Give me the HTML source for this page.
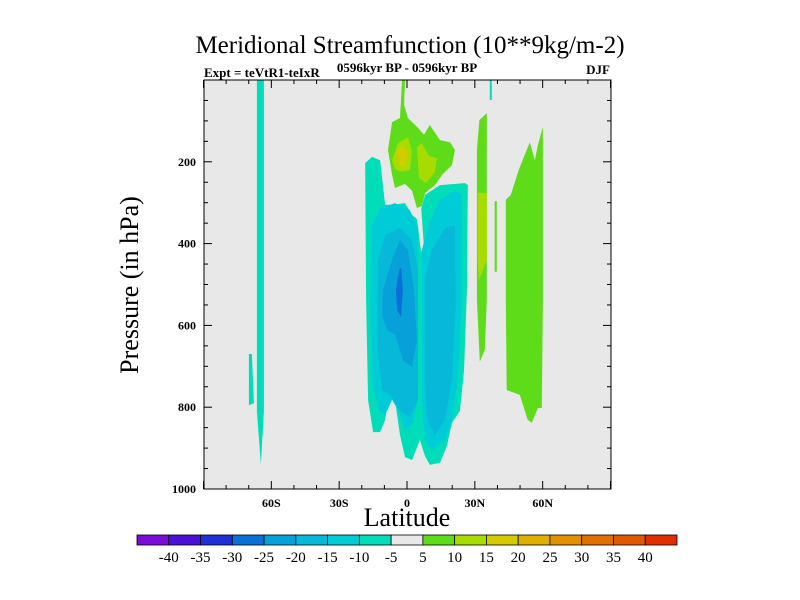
<!DOCTYPE html>
<html><head><meta charset="utf-8"><style>
html,body{margin:0;padding:0;background:#fff;}
svg{display:block;font-family:"Liberation Serif",serif;}
</style></head><body>
<svg id="chart" width="800" height="600" viewBox="0 0 800 600" xmlns="http://www.w3.org/2000/svg">
<text x="410" y="53" font-size="25" text-anchor="middle">Meridional Streamfunction (10**9kg/m-2)</text>
<text x="204" y="77" font-size="13" font-weight="bold">Expt = teVtR1-teIxR</text>
<text x="407" y="72" font-size="13" font-weight="bold" text-anchor="middle">0596kyr BP - 0596kyr BP</text>
<text x="610" y="74" font-size="13" font-weight="bold" text-anchor="end">DJF</text>
<rect x="204" y="80" width="407" height="409" fill="#e8e8e8"/>
<g id="fills"></g>
<rect x="204" y="80" width="407" height="409" fill="none" stroke="#000" stroke-width="1"/>
<g id="axes"></g>
<text transform="translate(138,285) rotate(-90)" font-size="26" text-anchor="middle">Pressure (in hPa)</text>
<text x="407" y="526" font-size="26" text-anchor="middle">Latitude</text>
<g id="cbar"></g>
</svg>
<script>
const levelColors = ["#7a0ed8","#4a10d8","#2030d8","#0a70d8","#08a0d8","#08b8d8","#00ccd8","#00ddb8","#e8e8e8","#5edc1a","#a8dc00","#d4cc00","#e0b000","#e09000","#e07000","#e05800","#e03000"];
const levelLabels = ["-40","-35","-30","-25","-20","-15","-10","-5","5","10","15","20","25","30","35","40"];
const xTicks = [-60,-30,0,30,60];
const xTickLabels = ["60S","30S","0","30N","60N"];
const yTicks = [200,400,600,800,1000];
// contour regions: [colorIndex, [[lat, hPa], ...]]
const regionLevels = [7,7,7,8,6,6,5,5,4,3,9,10,10,11,9,10,9,9,7];
const regionShapes = [
 [[-66.4,0],[-63.3,0],[-63.3,810],[-64.6,940],[-66.4,810]],
 [[-69.9,670],[-68.6,670],[-67.7,790],[-69.9,795]],
 [[-18.5,203],[-15.5,188],[-11.9,196],[-9.7,305],[-6.2,305],[-0.9,301],[2.2,330],[4.9,342],[8,281],[14.6,257],[25.6,252],[26.9,257],[26.5,516],[25.2,711],[23.4,809],[19.9,838],[17.6,895],[14.6,936],[10.1,941],[7.9,919],[5.7,880],[2.2,929],[-0.9,922],[-3.1,868],[-5.3,783],[-7.5,758],[-9.7,831],[-11.9,861],[-15,861],[-17.2,783],[-18.1,538]],
 [[3.5,310],[6.2,305],[7.5,410],[6.2,420],[4.9,360]],
 [[-15.5,355],[-11.9,313],[-5.3,301],[1.3,318],[4.9,364],[4.9,782],[2.2,843],[-0.9,856],[-4,807],[-6.6,782],[-9.7,819],[-12.8,807],[-15.5,733],[-16.3,538]],
 [[6.6,416],[9.3,355],[14.6,293],[21.2,269],[24.3,281],[24.3,538],[22.5,733],[19.9,831],[16.8,880],[11,905],[7.9,880],[6.6,783]],
 [[-12.8,440],[-9.7,379],[-3.1,362],[2.2,391],[4.9,464],[4.9,782],[1.3,825],[-3.1,807],[-7.5,770],[-11,758],[-13.2,660]],
 [[7.9,489],[11,416],[16.8,362],[21.2,355],[21.6,538],[19.9,733],[16.8,831],[12.4,868],[8.8,831],[7.9,733]],
 [[-10.6,513],[-6.6,440],[-3.1,391],[0.4,416],[3.1,513],[4.4,636],[2.2,702],[-1.8,685],[-5.3,623],[-8.8,611],[-11,575]],
 [[-3.5,464],[-2.6,459],[-1.8,513],[-2.6,580],[-4.4,562],[-4.9,513]],
 [[-2.2,0],[-0.9,0],[-1.3,61],[0.4,93],[4.9,117],[7.5,134],[10.1,110],[14.6,147],[19,152],[21.2,171],[19.9,208],[15.5,232],[12.4,257],[8,276],[6.6,308],[4.4,313],[2.2,271],[-0.9,254],[-5.3,264],[-6.6,232],[-8.4,171],[-6.6,103],[-3.1,93]],
 [[-6.6,196],[-4,154],[0.4,140],[2.2,176],[1.3,220],[-2.2,225],[-5.3,218]],
 [[4.4,164],[6.6,154],[9.7,186],[13.2,191],[12.4,225],[8.4,252],[5.3,240]],
 [[-4.4,171],[-1.8,159],[0.4,178],[-1.3,213],[-3.5,208]],
 [[32,98],[35.3,81],[35.3,171],[35.3,538],[34.4,660],[32.2,689],[30.9,538],[30.9,171]],
 [[31.3,276],[35.3,276],[35.3,440],[31.8,489],[31.3,440]],
 [[38.8,296],[39.7,296],[39.7,469],[38.8,469]],
 [[43.7,293],[45.9,281],[49.4,220],[54.3,152],[56.5,196],[57.9,159],[60.1,115],[60.1,538],[59.6,802],[57.9,802],[55.2,838],[53.4,831],[49.9,770],[44.1,758],[43.7,538]],
 [[36.6,0],[37.5,0],[37.5,49],[36.6,49]]
];
const X = lat => 407 + lat*2.2611;
const Y = p => 80 + p*0.409;
const NS="http://www.w3.org/2000/svg";
const fills=document.getElementById('fills');
regionShapes.forEach((pts,i)=>{
  const pg=document.createElementNS(NS,'polygon');
  pg.setAttribute('points',pts.map(q=>X(q[0]).toFixed(1)+','+Y(q[1]).toFixed(1)).join(' '));
  pg.setAttribute('fill',levelColors[regionLevels[i]]);
  
  
  fills.appendChild(pg);
});
const axes=document.getElementById('axes');
function line(x1,y1,x2,y2,name){
  const l=document.createElementNS(NS,'line');
  l.setAttribute('x1',x1);l.setAttribute('y1',y1);l.setAttribute('x2',x2);l.setAttribute('y2',y2);
  l.setAttribute('stroke','#000');l.setAttribute('stroke-width','1');
  
  
  axes.appendChild(l);
}
function txt(x,y,s,anchor,name){
  const t=document.createElementNS(NS,'text');
  t.setAttribute('x',x);t.setAttribute('y',y);t.setAttribute('font-size','12');t.setAttribute('font-weight','bold');
  t.setAttribute('text-anchor',anchor);t.textContent=s;
  
  
  return t;
}
for(let lat=-90;lat<=90;lat+=10){
  const len = lat%30===0?8:4;
  line(X(lat),489,X(lat),489-len,'x-tick');
  line(X(lat),80,X(lat),80+len,'x-tick');
}
xTicks.forEach((v,i)=>axes.appendChild(txt(X(v),507,xTickLabels[i],'middle','x-tick-label')));
for(let p=0;p<=1000;p+=50){
  const len = p%200===0?8:4;
  line(204,Y(p),204+len,Y(p),'y-tick');
  line(611,Y(p),611-len,Y(p),'y-tick');
}
yTicks.forEach(v=>axes.appendChild(txt(196,Y(v)+4,String(v),'end','y-tick-label')));
const cbar=document.getElementById('cbar');
const bw=540/levelColors.length;
levelColors.forEach((c,i)=>{
  const r=document.createElementNS(NS,'rect');
  r.setAttribute('x',137+i*bw);r.setAttribute('y',535);r.setAttribute('width',bw);r.setAttribute('height',10);
  r.setAttribute('fill',c);r.setAttribute('stroke','#000');r.setAttribute('stroke-width','0.8');
  
  
  cbar.appendChild(r);
});
levelLabels.forEach((s,i)=>{
  const t=txt(137+(i+1)*bw,562,s,'middle','colorbar-label');
  t.setAttribute('font-size','15');t.setAttribute('font-weight','normal');
  cbar.appendChild(t);
});
</script>
</body></html>
